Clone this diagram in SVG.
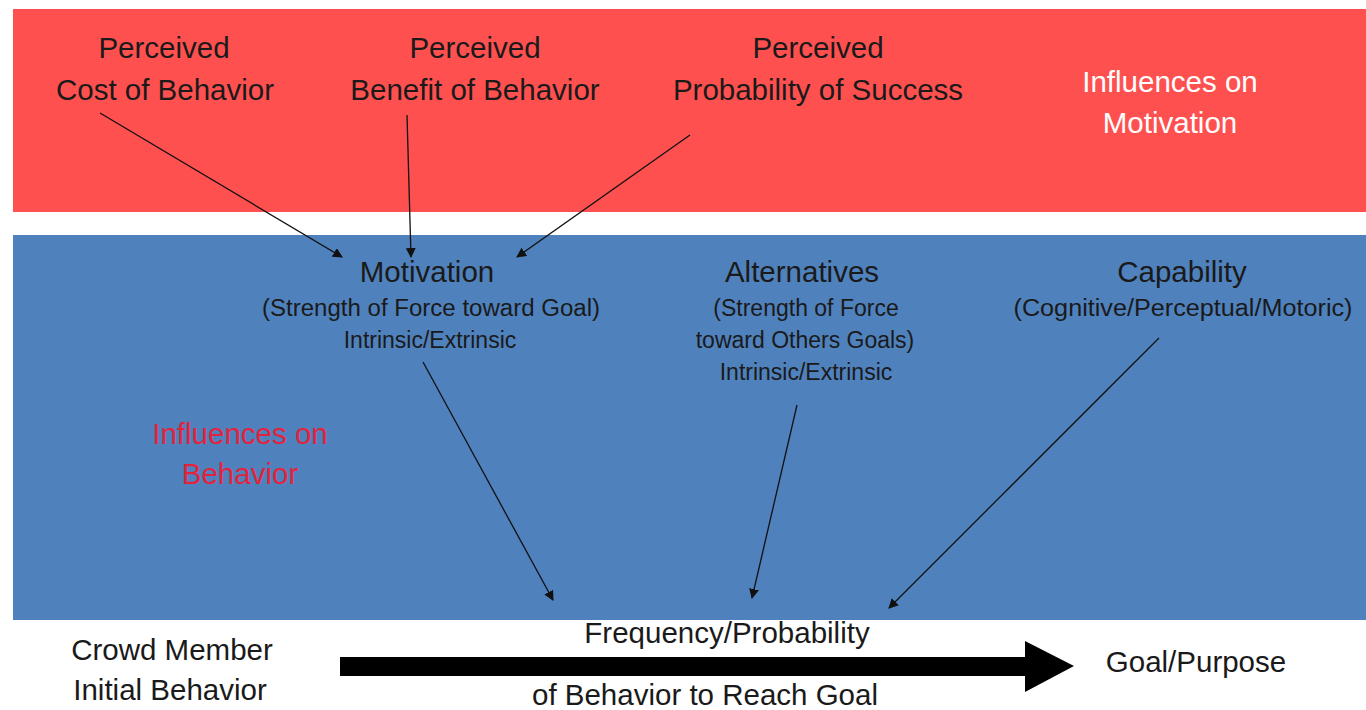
<svg xmlns="http://www.w3.org/2000/svg" width="1366" height="710" viewBox="0 0 1366 710">
<style>
text{font-family:"Liberation Sans",Arial,sans-serif;text-anchor:middle;fill:#1a1a1a}
.big{font-size:29.5px}
.sm{font-size:23px}
.white{fill:#ffffff}
.redt{fill:#e3233c}
.conn line{stroke:#111;stroke-width:1.3;marker-end:url(#ah)}
</style>
<defs>
<marker id="ah" viewBox="0 0 10 10" refX="9" refY="5" markerWidth="10" markerHeight="10" markerUnits="userSpaceOnUse" orient="auto">
<path d="M0,0 L10,5 L0,10 z" fill="#111"/>
</marker>
</defs>
<rect x="0" y="0" width="1366" height="710" fill="#ffffff"/>
<g id="band-motivation">
<rect x="13" y="9" width="1353" height="203" fill="#ff5050"/>
</g>
<g id="band-behavior">
<rect x="13" y="235" width="1353" height="385" fill="#4f81bd"/>
</g>
<g id="cost">
<text class="big" x="164" y="58">Perceived</text>
<text class="big" x="165" y="100">Cost of Behavior</text>
</g>
<g id="benefit">
<text class="big" x="475" y="58">Perceived</text>
<text class="big" x="475" y="100">Benefit of Behavior</text>
</g>
<g id="probability">
<text class="big" x="818" y="58">Perceived</text>
<text class="big" x="818" y="100">Probability of Success</text>
</g>
<g id="influences-motivation">
<text class="big white" x="1170" y="92">Influences on</text>
<text class="big white" x="1170" y="133">Motivation</text>
</g>
<g id="motivation">
<text class="big" x="427" y="282">Motivation</text>
<text class="sm" x="431" y="316" textLength="338" lengthAdjust="spacingAndGlyphs">(Strength of Force toward Goal)</text>
<text class="sm" x="430" y="348">Intrinsic/Extrinsic</text>
</g>
<g id="alternatives">
<text class="big" x="802" y="282">Alternatives</text>
<text class="sm" x="806" y="316">(Strength of Force</text>
<text class="sm" x="805" y="348">toward Others Goals)</text>
<text class="sm" x="806" y="380">Intrinsic/Extrinsic</text>
</g>
<g id="capability">
<text class="big" x="1182" y="282">Capability</text>
<text class="sm" x="1183" y="316" textLength="339" lengthAdjust="spacingAndGlyphs">(Cognitive/Perceptual/Motoric)</text>
</g>
<g id="influences-behavior">
<text class="big redt" x="240" y="444">Influences on</text>
<text class="big redt" x="240" y="484">Behavior</text>
</g>
<g id="crowd-member">
<text class="big" x="172" y="660">Crowd Member</text>
<text class="big" x="170" y="700">Initial Behavior</text>
</g>
<g id="frequency">
<text class="big" x="727" y="643">Frequency/Probability</text>
<text class="big" x="705" y="705">of Behavior to Reach Goal</text>
</g>
<g id="goal">
<text class="big" x="1196" y="672">Goal/Purpose</text>
</g>
<g id="connectors" class="conn">
<line x1="100" y1="113" x2="342" y2="257"/>
<line x1="407" y1="115" x2="411" y2="257"/>
<line x1="690" y1="135" x2="517" y2="257"/>
<line x1="423" y1="362" x2="553" y2="600"/>
<line x1="797" y1="405" x2="752" y2="598"/>
<line x1="1159" y1="338" x2="889" y2="608"/>
<polygon points="340,657 1025,657 1025,641 1074,666 1025,692 1025,676 340,676" fill="#000"/>
</g>
</svg>
